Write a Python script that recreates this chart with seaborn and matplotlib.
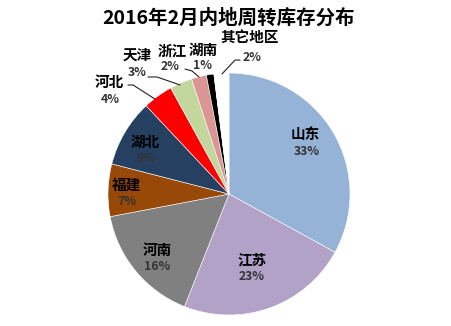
import matplotlib
matplotlib.use("Agg")
import matplotlib.pyplot as plt
import seaborn as sns

sns.set_theme(style="white")
plt.rcParams['font.family'] = ['Noto Sans CJK SC', 'DejaVu Sans']

# ---- data ----
regions = ["山东", "江苏", "河南", "福建", "湖北", "河北", "天津", "浙江", "湖南", "其它地区"]
shares = [33, 23, 16, 7, 9, 4, 3, 2, 1, 2]
colors = ["#95B3D7", "#B2A2C7", "#808080", "#984807", "#254061",
          "#FF0000", "#C3D69B", "#D99694", "#000000", "#FFFFFF"]
title = "2016年2月内地周转库存分布"

# label anchor positions (name, percent) in pie units
name_pos = [(0.63, 0.50), (0.19, -0.545), (-0.595, -0.46), (-0.845, 0.075),
            (-0.69, 0.43), (-0.985, 0.925), (-0.76, 1.15), (-0.47, 1.19),
            (-0.215, 1.19), (0.175, 1.30)]
pct_pos = [(0.64, 0.355), (0.19, -0.685), (-0.595, -0.60), (-0.845, -0.065),
           (-0.69, 0.295), (-0.985, 0.785), (-0.76, 1.00), (-0.49, 1.05),
           (-0.215, 1.065), (0.19, 1.13)]
leaders = {
    5: [(-0.835, 0.901), (-0.793, 0.901), (-0.612, 0.785)],
    6: [(-0.669, 0.967), (-0.595, 0.967), (-0.405, 0.901)],
    7: [(-0.364, 1.033), (-0.306, 1.017), (-0.248, 0.967)],
    9: [(0.091, 1.107), (0.05, 1.107), (-0.058, 0.992)],
}

fig = plt.figure(figsize=(4.52, 3.26), dpi=100)
fig.patch.set_facecolor("white")
ax = fig.add_axes([108 / 452, 11 / 326, 242 / 452, 242 / 326])
ax.pie(shares, colors=colors, startangle=90, counterclock=False, radius=1.0,
       wedgeprops=dict(edgecolor="white", linewidth=0.4))
ax.set_xlim(-1, 1)
ax.set_ylim(-1, 1)
ax.set_aspect("equal")
ax.axis("off")

for i, name in enumerate(regions):
    nx, ny = name_pos[i]
    px, py = pct_pos[i]
    ax.text(nx, ny, name, ha="center", va="center", fontsize=10.5,
            fontweight="bold", color="black", clip_on=False)
    ax.text(px, py, f"{shares[i]}%", ha="center", va="center", fontsize=8.8,
            fontweight="bold", color="#333333", clip_on=False)

for i, pts in leaders.items():
    xs = [p[0] for p in pts]
    ys = [p[1] for p in pts]
    ax.plot(xs, ys, color="#222222", linewidth=0.8, clip_on=False)

fig.text(229 / 452, 1 - 18 / 326, title, ha="center", va="center",
         fontsize=14, fontweight="bold", color="black")

fig.savefig("out.png", dpi=100, facecolor="white")
